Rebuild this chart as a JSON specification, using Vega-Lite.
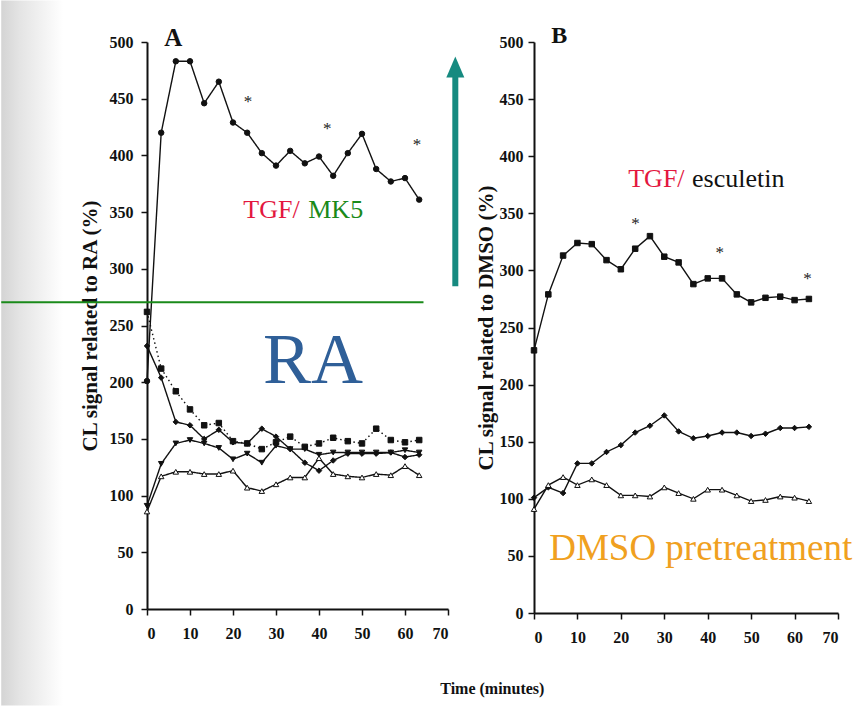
{
  "$schema": "https://vega.github.io/schema/vega-lite/v6.json",
  "background": "white",
  "padding": {"left": 0, "top": 0, "right": 0, "bottom": 0},
  "autosize": {"type": "pad"},
  "spacing": 86,
  "bounds": "flush",
  "resolve": {"scale": {"shape": "independent", "fill": "independent", "strokeDash": "independent"}},
  "datasets": {
    "A": [
      {"s":"a1","t":0,"v":201},{"s":"a1","t":3.3,"v":420},{"s":"a1","t":6.7,"v":483},{"s":"a1","t":10,"v":483},{"s":"a1","t":13.3,"v":446},{"s":"a1","t":16.7,"v":465},{"s":"a1","t":20,"v":429},{"s":"a1","t":23.3,"v":420},{"s":"a1","t":26.7,"v":402},{"s":"a1","t":30,"v":391},{"s":"a1","t":33.3,"v":404},{"s":"a1","t":36.7,"v":393},{"s":"a1","t":40,"v":399},{"s":"a1","t":43.3,"v":382},{"s":"a1","t":46.7,"v":402},{"s":"a1","t":50,"v":419},{"s":"a1","t":53.3,"v":388},{"s":"a1","t":56.7,"v":377},{"s":"a1","t":60,"v":380},{"s":"a1","t":63.3,"v":361},
      {"s":"a2","t":0,"v":262},{"s":"a2","t":3.3,"v":212},{"s":"a2","t":6.7,"v":192},{"s":"a2","t":10,"v":176},{"s":"a2","t":13.3,"v":162},{"s":"a2","t":16.7,"v":164},{"s":"a2","t":20,"v":148},{"s":"a2","t":23.3,"v":146},{"s":"a2","t":26.7,"v":141},{"s":"a2","t":30,"v":147},{"s":"a2","t":33.3,"v":152},{"s":"a2","t":36.7,"v":143},{"s":"a2","t":40,"v":146},{"s":"a2","t":43.3,"v":151},{"s":"a2","t":46.7,"v":148},{"s":"a2","t":50,"v":146},{"s":"a2","t":53.3,"v":159},{"s":"a2","t":56.7,"v":149},{"s":"a2","t":60,"v":147},{"s":"a2","t":63.3,"v":149},
      {"s":"a3","t":0,"v":232},{"s":"a3","t":3.3,"v":204},{"s":"a3","t":6.7,"v":165},{"s":"a3","t":10,"v":162},{"s":"a3","t":13.3,"v":150},{"s":"a3","t":16.7,"v":158},{"s":"a3","t":20,"v":147},{"s":"a3","t":23.3,"v":146},{"s":"a3","t":26.7,"v":159},{"s":"a3","t":30,"v":152},{"s":"a3","t":33.3,"v":141},{"s":"a3","t":36.7,"v":129},{"s":"a3","t":40,"v":122},{"s":"a3","t":43.3,"v":131},{"s":"a3","t":46.7,"v":137},{"s":"a3","t":50,"v":137},{"s":"a3","t":53.3,"v":137},{"s":"a3","t":56.7,"v":138},{"s":"a3","t":60,"v":134},{"s":"a3","t":63.3,"v":136},
      {"s":"a4","t":0,"v":91},{"s":"a4","t":3.3,"v":128},{"s":"a4","t":6.7,"v":146},{"s":"a4","t":10,"v":149},{"s":"a4","t":13.3,"v":146},{"s":"a4","t":16.7,"v":142},{"s":"a4","t":20,"v":132},{"s":"a4","t":23.3,"v":137},{"s":"a4","t":26.7,"v":129},{"s":"a4","t":30,"v":144},{"s":"a4","t":33.3,"v":141},{"s":"a4","t":36.7,"v":141},{"s":"a4","t":40,"v":136},{"s":"a4","t":43.3,"v":138},{"s":"a4","t":46.7,"v":138},{"s":"a4","t":50,"v":138},{"s":"a4","t":53.3,"v":138},{"s":"a4","t":56.7,"v":138},{"s":"a4","t":60,"v":140},{"s":"a4","t":63.3,"v":138},
      {"s":"a5","t":0,"v":86},{"s":"a5","t":3.3,"v":117},{"s":"a5","t":6.7,"v":121},{"s":"a5","t":10,"v":121},{"s":"a5","t":13.3,"v":119},{"s":"a5","t":16.7,"v":119},{"s":"a5","t":20,"v":122},{"s":"a5","t":23.3,"v":107},{"s":"a5","t":26.7,"v":104},{"s":"a5","t":30,"v":110},{"s":"a5","t":33.3,"v":116},{"s":"a5","t":36.7,"v":116},{"s":"a5","t":40,"v":133},{"s":"a5","t":43.3,"v":119},{"s":"a5","t":46.7,"v":117},{"s":"a5","t":50,"v":116},{"s":"a5","t":53.3,"v":119},{"s":"a5","t":56.7,"v":118},{"s":"a5","t":60,"v":126},{"s":"a5","t":63.3,"v":118}
    ],
    "B": [
      {"s":"b1","t":0,"v":230},{"s":"b1","t":3.3,"v":279},{"s":"b1","t":6.7,"v":313},{"s":"b1","t":10,"v":324},{"s":"b1","t":13.3,"v":323},{"s":"b1","t":16.7,"v":309},{"s":"b1","t":20,"v":301},{"s":"b1","t":23.3,"v":319},{"s":"b1","t":26.7,"v":330},{"s":"b1","t":30,"v":312},{"s":"b1","t":33.3,"v":307},{"s":"b1","t":36.7,"v":288},{"s":"b1","t":40,"v":293},{"s":"b1","t":43.3,"v":293},{"s":"b1","t":46.7,"v":279},{"s":"b1","t":50,"v":272},{"s":"b1","t":53.3,"v":276},{"s":"b1","t":56.7,"v":277},{"s":"b1","t":60,"v":274},{"s":"b1","t":63.3,"v":275},
      {"s":"b2","t":0,"v":101},{"s":"b2","t":3.3,"v":110},{"s":"b2","t":6.7,"v":105},{"s":"b2","t":10,"v":131},{"s":"b2","t":13.3,"v":131},{"s":"b2","t":16.7,"v":141},{"s":"b2","t":20,"v":147},{"s":"b2","t":23.3,"v":158},{"s":"b2","t":26.7,"v":164},{"s":"b2","t":30,"v":173},{"s":"b2","t":33.3,"v":159},{"s":"b2","t":36.7,"v":153},{"s":"b2","t":40,"v":155},{"s":"b2","t":43.3,"v":158},{"s":"b2","t":46.7,"v":158},{"s":"b2","t":50,"v":155},{"s":"b2","t":53.3,"v":157},{"s":"b2","t":56.7,"v":162},{"s":"b2","t":60,"v":162},{"s":"b2","t":63.3,"v":163},
      {"s":"b3","t":0,"v":91},{"s":"b3","t":3.3,"v":112},{"s":"b3","t":6.7,"v":119},{"s":"b3","t":10,"v":112},{"s":"b3","t":13.3,"v":117},{"s":"b3","t":16.7,"v":112},{"s":"b3","t":20,"v":103},{"s":"b3","t":23.3,"v":103},{"s":"b3","t":26.7,"v":102},{"s":"b3","t":30,"v":110},{"s":"b3","t":33.3,"v":105},{"s":"b3","t":36.7,"v":100},{"s":"b3","t":40,"v":108},{"s":"b3","t":43.3,"v":108},{"s":"b3","t":46.7,"v":103},{"s":"b3","t":50,"v":98},{"s":"b3","t":53.3,"v":99},{"s":"b3","t":56.7,"v":102},{"s":"b3","t":60,"v":101},{"s":"b3","t":63.3,"v":98}
    ],
    "starsA": [{"t":23.5,"v":451},{"t":41.9,"v":427},{"t":62.8,"v":413}],
    "starsB": [{"t":23.4,"v":344},{"t":42.8,"v":319},{"t":63,"v":296}]
  },
  "hconcat": [
    {
      "width": 301,
      "height": 567,
      "layer": [
        {
          "data": {"values": [{}]},
          "mark": {"type": "rect", "fill": {"gradient": "linear", "x1": 0, "y1": 0, "x2": 1, "y2": 0, "stops": [{"offset": 0, "color": "#d4d4d4"}, {"offset": 0.3, "color": "#e4e4e4"}, {"offset": 1, "color": "#ffffff"}]}},
          "encoding": {"x": {"datum": -33.9}, "x2": {"datum": -19.5}, "y": {"datum": -85}, "y2": {"datum": 536.6}}
        },
        {
          "data": {"name": "A"},
          "mark": {"type": "line", "color": "#111", "strokeWidth": 1.4},
          "encoding": {
            "x": {"field": "t", "type": "quantitative", "scale": {"domain": [0, 70], "nice": false, "zero": false}, "axis": {"values": [0,10,20,30,40,50,60,70], "title": null, "labelPadding": 10}},
            "y": {"field": "v", "type": "quantitative", "scale": {"domain": [0, 500], "nice": false}, "axis": {"values": [0,50,100,150,200,250,300,350,400,450,500], "title": "CL signal related to RA (%)", "labelPadding": 8, "titlePadding": 9}},
            "detail": {"field": "s"},
            "strokeDash": {"field": "s", "type": "nominal", "scale": {"domain": ["a1","a2","a3","a4","a5"], "range": [[1,0],[1.5,3],[1,0],[1,0],[1,0]]}, "legend": null}
          }
        },
        {
          "data": {"name": "A"},
          "mark": {"type": "point", "filled": true, "stroke": "#111", "strokeWidth": 1, "opacity": 1, "size": 30},
          "encoding": {
            "x": {"field": "t", "type": "quantitative"},
            "y": {"field": "v", "type": "quantitative"},
            "shape": {"field": "s", "type": "nominal", "scale": {"domain": ["a1","a2","a3","a4","a5"], "range": ["circle","square","diamond","triangle-down","triangle-up"]}, "legend": null},
            "fill": {"field": "s", "type": "nominal", "scale": {"domain": ["a1","a2","a3","a4","a5"], "range": ["#111","#111","#111","#111","white"]}, "legend": null}
          }
        },
        {
          "data": {"name": "starsA"},
          "mark": {"type": "text", "text": "*", "font": "Liberation Serif", "fontSize": 17, "baseline": "alphabetic", "dy": 9, "color": "#222"},
          "encoding": {"x": {"field": "t", "type": "quantitative"}, "y": {"field": "v", "type": "quantitative"}}
        },
        {
          "data": {"values": [{}]},
          "mark": {"type": "rule", "color": "#1a8a1a", "strokeWidth": 2},
          "encoding": {"x": {"datum": -33.9}, "x2": {"datum": 64.3}, "y": {"datum": 270.6}}
        },
        {
          "data": {"values": [{}]},
          "mark": {"type": "rule", "color": "#168a80", "strokeWidth": 6},
          "encoding": {"x": {"datum": 71.7}, "y": {"datum": 284.7}, "y2": {"datum": 470}}
        },
        {
          "data": {"values": [{}]},
          "mark": {"type": "point", "shape": "M0,-1.17L1,1.17L-1,1.17Z", "size": 324, "filled": true, "color": "#168a80", "opacity": 1},
          "encoding": {"x": {"datum": 71.7}, "y": {"datum": 478}}
        },
        {
          "data": {"values": [{}]},
          "mark": {"type": "text", "text": "A", "font": "Liberation Serif", "fontSize": 25, "fontWeight": "bold", "align": "center", "baseline": "alphabetic", "color": "#111"},
          "encoding": {"x": {"datum": 6.1}, "y": {"datum": 496.6}}
        },
        {
          "data": {"values": [{}]},
          "mark": {"type": "text", "text": "TGF/", "font": "Liberation Serif", "fontSize": 26, "align": "left", "baseline": "alphabetic", "color": "#e3173e"},
          "encoding": {"x": {"datum": 22.4}, "y": {"datum": 345}}
        },
        {
          "data": {"values": [{}]},
          "mark": {"type": "text", "text": "MK5", "font": "Liberation Serif", "fontSize": 26, "align": "left", "baseline": "alphabetic", "color": "#1a8a1a"},
          "encoding": {"x": {"datum": 37.5}, "y": {"datum": 345}}
        },
        {
          "data": {"values": [{}]},
          "mark": {"type": "text", "text": "RA", "font": "Liberation Serif", "fontSize": 72, "align": "left", "baseline": "alphabetic", "color": "#2f5f98"},
          "encoding": {"x": {"datum": 27}, "y": {"datum": 199.5}}
        }
      ]
    },
    {
      "width": 304,
      "height": 571,
      "layer": [
        {
          "data": {"name": "B"},
          "mark": {"type": "line", "color": "#111", "strokeWidth": 1.4},
          "encoding": {
            "x": {"field": "t", "type": "quantitative", "scale": {"domain": [0, 70], "nice": false, "zero": false}, "axis": {"values": [0,10,20,30,40,50,60,70], "title": null, "labelPadding": 10}},
            "y": {"field": "v", "type": "quantitative", "scale": {"domain": [0, 500], "nice": false}, "axis": {"values": [0,50,100,150,200,250,300,350,400,450,500], "title": "CL signal related to DMSO (%)", "labelPadding": 5, "titlePadding": 3}},
            "detail": {"field": "s"}
          }
        },
        {
          "data": {"name": "B"},
          "mark": {"type": "point", "filled": true, "stroke": "#111", "strokeWidth": 1, "opacity": 1, "size": 30},
          "encoding": {
            "x": {"field": "t", "type": "quantitative"},
            "y": {"field": "v", "type": "quantitative"},
            "shape": {"field": "s", "type": "nominal", "scale": {"domain": ["b1","b2","b3"], "range": ["square","diamond","triangle-up"]}, "legend": null},
            "fill": {"field": "s", "type": "nominal", "scale": {"domain": ["b1","b2","b3"], "range": ["#111","#111","white"]}, "legend": null}
          }
        },
        {
          "data": {"name": "starsB"},
          "mark": {"type": "text", "text": "*", "font": "Liberation Serif", "fontSize": 17, "baseline": "alphabetic", "dy": 9, "color": "#222"},
          "encoding": {"x": {"field": "t", "type": "quantitative"}, "y": {"field": "v", "type": "quantitative"}}
        },
        {
          "data": {"values": [{}]},
          "mark": {"type": "text", "text": "B", "font": "Liberation Serif", "fontSize": 24, "fontWeight": "bold", "align": "center", "baseline": "alphabetic", "color": "#111"},
          "encoding": {"x": {"datum": 5.8}, "y": {"datum": 498.8}}
        },
        {
          "data": {"values": [{}]},
          "mark": {"type": "text", "text": "TGF/", "font": "Liberation Serif", "fontSize": 26, "align": "left", "baseline": "alphabetic", "color": "#e3173e"},
          "encoding": {"x": {"datum": 21.7}, "y": {"datum": 373}}
        },
        {
          "data": {"values": [{}]},
          "mark": {"type": "text", "text": "esculetin", "font": "Liberation Serif", "fontSize": 26, "align": "left", "baseline": "alphabetic", "color": "#111"},
          "encoding": {"x": {"datum": 36.4}, "y": {"datum": 373}}
        },
        {
          "data": {"values": [{}]},
          "mark": {"type": "text", "text": "DMSO pretreatment", "font": "Liberation Serif", "fontSize": 37, "align": "left", "baseline": "alphabetic", "color": "#f0a020"},
          "encoding": {"x": {"datum": 3.5}, "y": {"datum": 46.3}}
        },
        {
          "data": {"values": [{}]},
          "mark": {"type": "text", "text": "Time (minutes)", "font": "Liberation Serif", "fontSize": 16, "fontWeight": "bold", "align": "center", "baseline": "alphabetic", "color": "#111"},
          "encoding": {"x": {"datum": -9.6}, "y": {"datum": -70.8}}
        }
      ]
    }
  ],
  "config": {
    "font": "Liberation Serif",
    "view": {"stroke": null},
    "axis": {
      "grid": false,
      "domainColor": "#111",
      "domainWidth": 2,
      "tickColor": "#111",
      "tickWidth": 1.5,
      "tickSize": 6,
      "labelFont": "Liberation Serif",
      "labelFontWeight": "bold",
      "labelFontSize": 16,
      "labelColor": "#111",
      "titleFont": "Liberation Serif",
      "titleFontWeight": "bold",
      "titleFontSize": 21,
      "titleColor": "#111"
    }
  }
}
